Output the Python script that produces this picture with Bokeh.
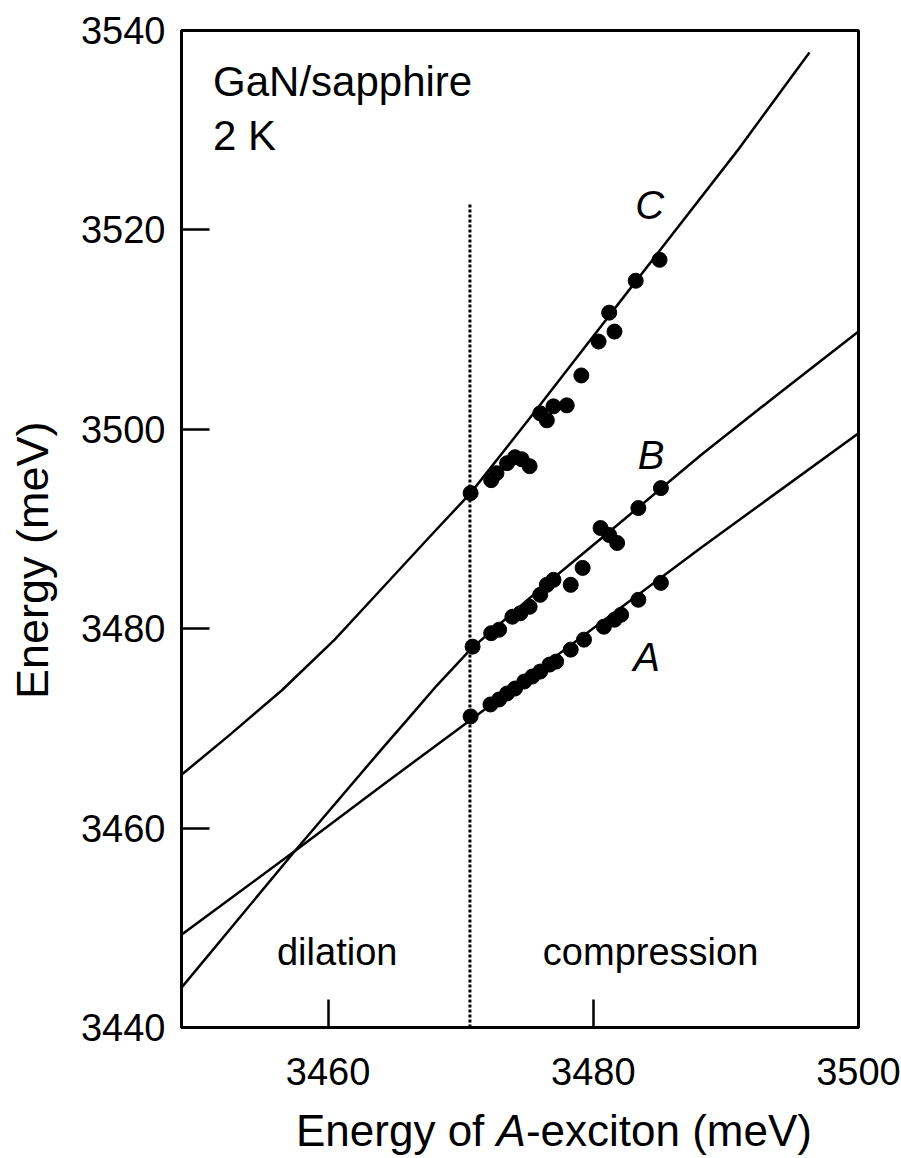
from bokeh.plotting import figure
from bokeh.models import Range1d, Label, FixedTicker, Div
from bokeh.layouts import column
from bokeh.embed import file_html
from bokeh.resources import INLINE

# ---- data ----
x_ticks = [3460, 3480, 3500]
y_ticks = [3440, 3460, 3480, 3500, 3520, 3540]

a_x = [3470.75, 3472.25, 3472.9, 3473.5, 3474.1, 3474.8, 3475.4, 3476.0, 3476.7, 3477.2,
       3478.3, 3479.3, 3480.8, 3481.6, 3482.1, 3483.4, 3485.1]
a_y = [3471.2, 3472.4, 3472.9, 3473.5, 3474.0, 3474.7, 3475.2, 3475.7, 3476.4, 3476.7,
       3477.9, 3478.9, 3480.2, 3480.9, 3481.4, 3482.9, 3484.6]

b_x = [3470.9, 3472.3, 3472.9, 3473.9, 3474.5, 3475.2, 3476.0, 3476.5, 3477.0, 3478.3,
       3479.2, 3480.55, 3481.2, 3481.8, 3483.4, 3485.1]
b_y = [3478.2, 3479.55, 3479.9, 3481.2, 3481.55, 3482.2, 3483.4, 3484.4, 3484.9, 3484.4,
       3486.1, 3490.1, 3489.4, 3488.6, 3492.1, 3494.1]

c_x = [3470.75, 3472.3, 3472.7, 3473.5, 3474.1, 3474.6, 3475.2, 3476.0, 3476.5, 3477.0,
       3478.0, 3479.1, 3480.4, 3481.2, 3481.6, 3483.2, 3485.0]
c_y = [3493.6, 3494.9, 3495.6, 3496.6, 3497.2, 3497.0, 3496.3, 3501.6, 3500.9, 3502.3,
       3502.4, 3505.4, 3508.8, 3511.7, 3509.8, 3514.9, 3517.0]

curve_a_x = [3448.95, 3457.5, 3464.0, 3471.0, 3488.1, 3500.0]
curve_a_y = [3449.3, 3457.7, 3464.2, 3471.1, 3488.1, 3499.6]

curve_b_x = [3448.95, 3457.5, 3464.0, 3466.0, 3468.2, 3470.8, 3476.0, 3482.0, 3488.1, 3494.0, 3500.0]
curve_b_y = [3444.0, 3457.7, 3467.85, 3470.9, 3474.3, 3478.0, 3483.98, 3490.6, 3497.4, 3503.6, 3509.8]

curve_c_x = [3448.95, 3452.5, 3456.5, 3460.5, 3463.0, 3468.0, 3470.75, 3475.5, 3481.2, 3485.0, 3490.9, 3496.3]
curve_c_y = [3465.35, 3469.25, 3473.8, 3478.9, 3482.5, 3489.7, 3493.6, 3501.6, 3511.4, 3517.9, 3528.0, 3537.8]

boundary_x = [3470.7, 3470.7]
boundary_y = [3440.0, 3522.7]

FONT = "Liberation Sans"

p = figure(width=901, height=1107,
           x_range=Range1d(3448.95, 3500), y_range=Range1d(3440, 3540),
           output_backend="svg", toolbar_location=None,
           min_border_left=181, min_border_right=43,
           min_border_top=30, min_border_bottom=80)
p.grid.visible = False
p.background_fill_color = "white"
p.border_fill_color = "white"
p.outline_line_color = "black"
p.outline_line_width = 3
p.outline_line_alpha = 1.0

p.xaxis.ticker = FixedTicker(ticks=x_ticks)
p.yaxis.ticker = FixedTicker(ticks=y_ticks)
for ax in (p.xaxis[0], p.yaxis[0]):
    ax.major_tick_in = 28
    ax.major_tick_out = 0
    ax.minor_tick_in = 0
    ax.minor_tick_out = 0
    ax.major_tick_line_width = 2.5
    ax.major_tick_line_color = "black"
    ax.axis_line_width = 3
    ax.axis_line_color = "black"
    ax.major_label_text_font = FONT
    ax.major_label_text_font_size = "38px"
    ax.major_label_text_color = "black"
p.xaxis.major_label_standoff = 30
p.yaxis.major_label_standoff = 16

# y-axis title (non-breaking spaces shift it down a little, as in the reference)
p.yaxis.axis_label = "Energy (meV)" + "\u00a0" * 5
p.yaxis.axis_label_text_font = FONT
p.yaxis.axis_label_text_font_size = "45px"
p.yaxis.axis_label_text_font_style = "normal"
p.yaxis.axis_label_text_color = "black"
p.yaxis.axis_label_standoff = 20

# curves
p.line(curve_a_x, curve_a_y, line_color="black", line_width=2.5)
p.line(curve_b_x, curve_b_y, line_color="black", line_width=2.5)
p.line(curve_c_x, curve_c_y, line_color="black", line_width=2.5)

# boundary dotted line
p.line(boundary_x, boundary_y, line_color="black", line_width=3, line_dash="3 2")

# data points
for xs, ys in ((a_x, a_y), (b_x, b_y), (c_x, c_y)):
    p.scatter(xs, ys, marker="circle", size=15, fill_color="black", line_color="black")

# annotations
def lab(x, y, text, size="40px", style="normal", align="left"):
    p.add_layout(Label(x=x, y=y, text=text, text_font=FONT, text_font_size=size,
                       text_font_style=style, text_align=align,
                       text_baseline="alphabetic", text_color="black"))

lab(3451.33, 3534.9, "GaN/sapphire", size="42px")
lab(3451.33, 3529.45, "2 K", size="42px")
lab(3484.25, 3522.45, "C", style="italic", align="center")
lab(3484.36, 3497.4, "B", style="italic", align="center")
lab(3484.02, 3477.2, "A", style="italic", align="center")
lab(3460.69, 3447.6, "dilation", size="38px", align="center")
lab(3484.32, 3447.6, "compression", size="38px", align="center")

# x-axis title with italic A
xtitle = Div(
    text=('<div style="font-family:\'Liberation Sans\',Arial,sans-serif;font-size:44px;'
          'line-height:44px;padding-left:296px;padding-top:2px;white-space:nowrap;'
          'color:black;">Energy of <i>A</i>-exciton (meV)</div>'),
    width=901, height=51, margin=(0, 0, 0, 0))

layout = column(p, xtitle, spacing=0)
open("out.html", "w").write(file_html(layout, INLINE))
